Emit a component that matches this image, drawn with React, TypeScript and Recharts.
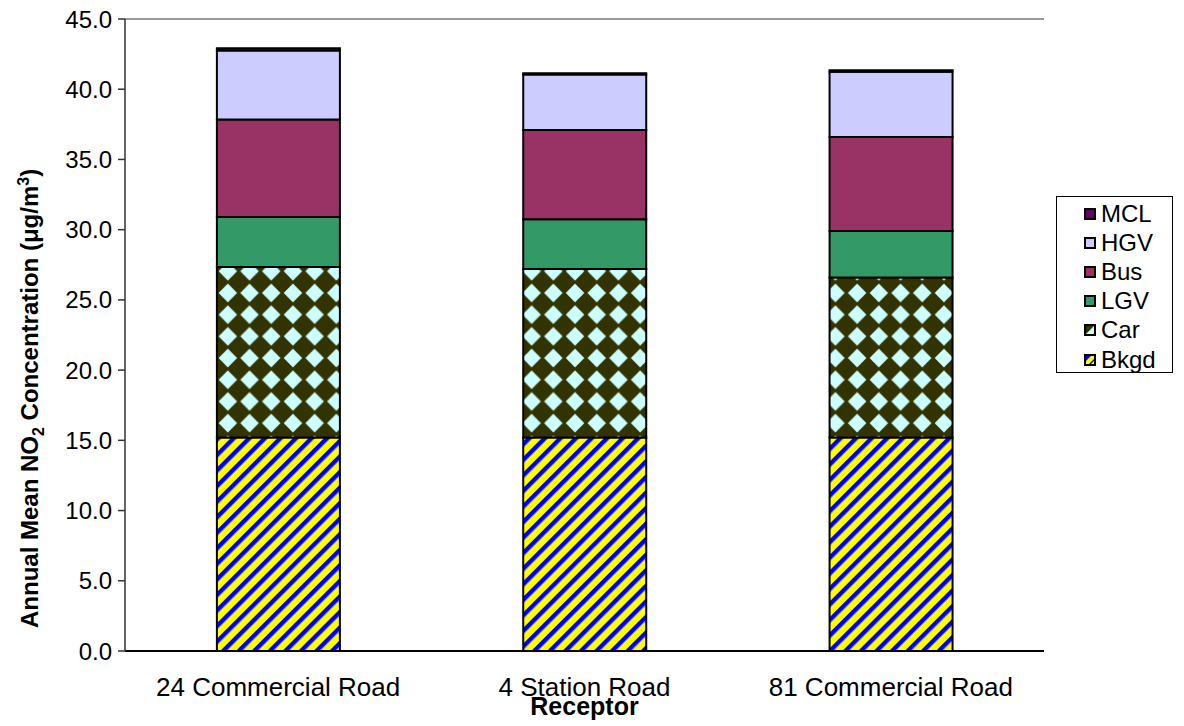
import React from 'react';
import { BarChart, Bar, XAxis, YAxis, Legend, ReferenceLine } from 'recharts';

const FONT = '"Liberation Sans", Arial, Helvetica, sans-serif';

const categories = ['24 Commercial Road', '4 Station Road', '81 Commercial Road'];
const bkgd = [15.2, 15.2, 15.2];
const car = [12.15, 12.0, 11.4];
const lgv = [3.55, 3.55, 3.3];
const bus = [6.95, 6.35, 6.7];
const hgv = [4.9, 3.95, 4.65];
const mcl = [0.17, 0.08, 0.1];
const yTicks = [0, 5, 10, 15, 20, 25, 30, 35, 40, 45];
const boundaryTicks = [0, 1, 2, 3];

const data = categories.map((name, i) => ({
  name,
  Bkgd: bkgd[i],
  Car: car[i],
  LGV: lgv[i],
  Bus: bus[i],
  HGV: hgv[i],
  MCL: mcl[i],
}));

const series = [
  { key: 'Bkgd', fill: 'url(#pBkgd)' },
  { key: 'Car', fill: 'url(#pCar)' },
  { key: 'LGV', fill: '#339966' },
  { key: 'Bus', fill: '#993366' },
  { key: 'HGV', fill: '#CCCCFF' },
  { key: 'MCL', fill: '#660066' },
];

const Swatch = ({ k }: { k: string }) => {
  const solid: Record<string, string> = { MCL: '#660066', HGV: '#CCCCFF', Bus: '#993366', LGV: '#339966' };
  return (
    <svg width={12} height={12} style={{ display: 'block' }}>
      {solid[k] && <rect x={1} y={1} width={10} height={10} fill={solid[k]} />}
      {k === 'Car' && (
        <g>
          <rect x={1} y={1} width={10} height={10} fill="#CCFFFF" />
          <polygon points="1,1 11,1 1,11" fill="#333300" />
        </g>
      )}
      {k === 'Bkgd' && (
        <g>
          <rect x={1} y={1} width={10} height={10} fill="#FFFF00" />
          <polygon points="1,1 8,1 1,8" fill="#0000FF" />
          <polygon points="11,4 11,6 6,11 4,11" fill="#0000FF" />
        </g>
      )}
      <rect x={1} y={1} width={10} height={10} fill="none" stroke="#000" strokeWidth={2} />
    </svg>
  );
};

const LegendBox = () => {
  const rows = [...series].reverse();
  return (
    <div
      style={{
        border: '1px solid #000',
        background: '#fff',
        width: 117,
        height: 177,
        boxSizing: 'border-box',
        paddingTop: 2,
        fontFamily: FONT,
        fontSize: 24,
        color: '#000',
      }}
    >
      {rows.map((s) => (
        <div key={s.key} style={{ display: 'flex', alignItems: 'center', height: 29.2, paddingLeft: 27 }}>
          <Swatch k={s.key} />
          <span style={{ marginLeft: 5, lineHeight: '24px' }}>{s.key}</span>
        </div>
      ))}
    </div>
  );
};

const YLabel = (props: any) => {
  const vb = props.viewBox || { x: 0, y: 19, width: 125, height: 632 };
  const x = vb.x + 38;
  const y = vb.y + vb.height - 23;
  return (
    <text
      x={x}
      y={y}
      transform={`rotate(-90 ${x} ${y})`}
      fontFamily={FONT}
      fontSize={24}
      fontWeight="bold"
      fill="#000"
    >
      <tspan>Annual Mean NO</tspan>
      <tspan fontSize={16} dy={6}>2</tspan>
      <tspan dy={-6}> Concentration (</tspan>
      <tspan>μ</tspan>
      <tspan>g/m</tspan>
      <tspan fontSize={16} dy={-9}>3</tspan>
      <tspan dy={9}>)</tspan>
    </text>
  );
};

const XLabel = (props: any) => {
  const vb = props.viewBox || { x: 125, y: 651, width: 919, height: 75 };
  return (
    <text
      x={vb.x + vb.width / 2}
      y={vb.y + 64}
      textAnchor="middle"
      fontFamily={FONT}
      fontSize={25}
      fontWeight="bold"
      fill="#000"
    >
      Receptor
    </text>
  );
};

const noTick = () => <g />;

export default function App() {
  return (
    <div style={{ position: 'fixed', left: 0, top: 0, width: 1184, height: 726, background: '#fff' }}>
      <BarChart
        width={1184}
        height={726}
        data={data}
        margin={{ top: 19, right: 140, bottom: 0, left: 0 }}
        barCategoryGap="30%"
      >
        <defs>
          <pattern id="pBkgd" patternUnits="userSpaceOnUse" width={11} height={11} patternTransform="rotate(45)">
            <rect x={0} y={0} width={11} height={11} fill="#FFFF00" />
            <rect x={0} y={0} width={4.4} height={11} fill="#0000FF" />
          </pattern>
          <pattern id="pCar" patternUnits="userSpaceOnUse" width={21.7} height={21.7}>
            <rect x={0} y={0} width={21.7} height={21.7} fill="#333300" />
            <path d="M10.85,1.6 L20.1,10.85 L10.85,20.1 L1.6,10.85 Z" fill="#CCFFFF" />
          </pattern>
        </defs>
        <XAxis
          xAxisId="b"
          type="number"
          domain={[0, 3]}
          ticks={boundaryTicks}
          allowDataOverflow
          height={0}
          axisLine={false}
          tick={noTick}
          tickLine={{ stroke: '#333', strokeWidth: 1.5 }}
          tickSize={7}
        />
        <XAxis
          xAxisId="a"
          dataKey="name"
          height={75}
          axisLine={{ stroke: '#000', strokeWidth: 2 }}
          tickLine={false}
          tickSize={0}
          tickMargin={27}
          tick={{ fill: '#000', fontSize: 26, fontFamily: FONT }}
          label={{ content: XLabel }}
        />
        <YAxis
          width={125}
          domain={[0, 45]}
          ticks={yTicks}
          allowDataOverflow
          interval={0}
          tickFormatter={(v: number) => v.toFixed(1)}
          axisLine={{ stroke: '#333', strokeWidth: 1.5 }}
          tickLine={{ stroke: '#333', strokeWidth: 1.5 }}
          tickSize={7}
          tickMargin={6}
          tick={{ fill: '#000', fontSize: 24, fontFamily: FONT }}
          label={{ content: YLabel }}
        />
        <ReferenceLine xAxisId="a" y={45} stroke="#999" strokeWidth={2} />
        <ReferenceLine xAxisId="b" x={3} stroke="#999" strokeWidth={2} />
        {series.map((s) => (
          <Bar
            key={s.key}
            xAxisId="a"
            dataKey={s.key}
            stackId="s"
            fill={s.fill}
            stroke="#000"
            strokeWidth={2}
            isAnimationActive={false}
          />
        ))}
        <Legend
          layout="vertical"
          align="center"
          verticalAlign="middle"
          content={<LegendBox />}
          wrapperStyle={{ left: 1056, top: 196, width: 118, height: 178 }}
        />
      </BarChart>
    </div>
  );
}
